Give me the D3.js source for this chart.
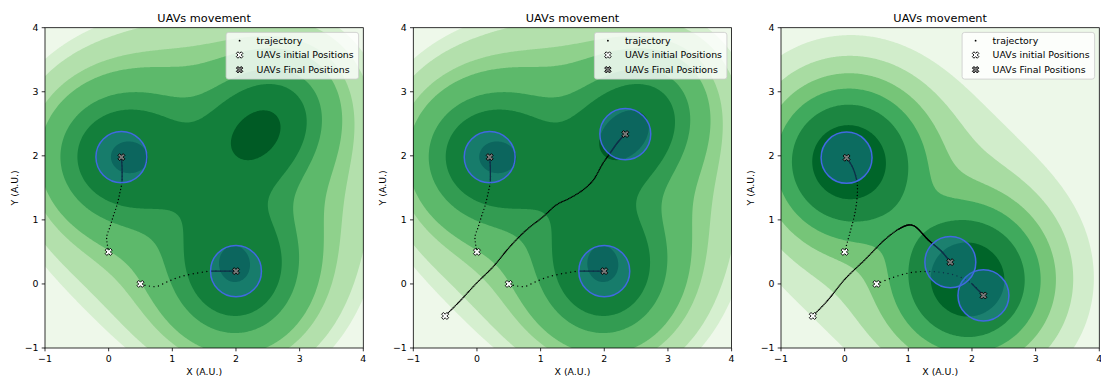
<!DOCTYPE html>
<html><head><meta charset="utf-8">
<script src="https://cdn.jsdelivr.net/npm/d3@7"></script>
<style>body{margin:0;background:#fff}svg{display:block;font-family:"DejaVu Sans",sans-serif}</style>
</head><body><svg id="c" width="1101" height="379"></svg>
<script>
// ================= DATA =================
const xTicks = [-1, 0, 1, 2, 3, 4];
const yTicks = [-1, 0, 1, 2, 3, 4];
const titleText = "UAVs movement";
const xLabel = "X (A.U.)", yLabel = "Y (A.U.)";
const legendLabels = ["trajectory", "UAVs initial Positions", "UAVs Final Positions"];

// coverage field, panels 1 & 2 (three peaks)
const peakX12 = [0.21, 2.0, 2.42];
const peakY12 = [2.0, 0.2, 2.43];
const peakSx12 = [0.72, 0.66, 0.64];
const peakSy12 = [0.66, 0.72, 0.64];
const peakRho12 = [0, 0, 0.25];
const peakAmp12 = [1, 1, 1.04];
const levels12 = [0.14, 0.18, 0.267, 0.35, 0.556, 0.76, 1.10];
const colors12 = ["#eef8ea", "#d5efcf", "#b3e0ac", "#8fd18c", "#5db96b", "#339c52", "#137f3b", "#005b25"];

// coverage field, panel 3 (two peaks)
const peakX3 = [0.05, 1.95];
const peakY3 = [1.92, 0.05];
const peakSx3 = [0.65, 0.65];
const peakSy3 = [0.65, 0.65];
const peakRho3 = [0, 0];
const peakAmp3 = [1, 1];
const levels3 = [0.075, 0.122, 0.198, 0.31, 0.48, 0.745];
const colors3 = ["#edf8e9", "#d1edcb", "#a8dca2", "#76c578", "#40aa5d", "#1c8641", "#006529"];

// kernel shape: narrow-part weight and broad sigma per panel
const narrowWeight = [0.75, 0.75, 0.85];
const broadSigma = [1.5, 1.5, 1.5];

// trajectories (x, y)
const trajA12 = [[0, 0.5], [-0.02, 0.61], [-0.03, 0.74], [0.02, 0.89], [0.07, 1.05], [0.13, 1.23], [0.18, 1.44], [0.21, 1.6], [0.21, 1.83], [0.2, 1.98]];
const trajB12 = [[0.5, 0], [0.62, -0.03], [0.75, -0.04], [0.91, 0.03], [1.12, 0.11], [1.39, 0.17], [1.6, 0.2], [1.8, 0.2], [2.0, 0.2]];
const trajC2 = [[-0.5, -0.5], [-0.27, -0.27], [-0.006, 0.013], [0.256, 0.27], [0.52, 0.585], [0.78, 0.845], [1.04, 1.05], [1.25, 1.235], [1.46, 1.34], [1.67, 1.47], [1.83, 1.625], [1.98, 1.885], [2.09, 2.04], [2.22, 2.22], [2.33, 2.34]];
const trajA3 = [[0, 0.5], [0.08, 0.79], [0.16, 1.1], [0.2, 1.42], [0.19, 1.62], [0.13, 1.81], [0.03, 1.97]];
const trajB3 = [[0.5, 0], [0.73, 0.09], [1.0, 0.17], [1.26, 0.195], [1.52, 0.18], [1.78, 0.12], [1.99, 0.01], [2.18, -0.18]];
const trajC3 = [[-0.5, -0.5], [-0.26, -0.25], [0, 0.07], [0.32, 0.38], [0.63, 0.69], [0.84, 0.85], [1.0, 0.92], [1.1, 0.9], [1.31, 0.69], [1.52, 0.51], [1.66, 0.34]];
// waypoint index from which samples are so dense that they merge into a line
const denseFrom1 = [7, 6];
const denseFrom2 = [7, 6, 12];
const denseFrom3 = [4, 6, 5];
const coverRadius = 0.4;

// ================= LAYOUT / STYLE =================
const panelLeft = [45, 413.3, 781];
const plotW = 318.3, plotH = 320.3, plotTop = 27.7;
const dotGap = [3.4, 4.6, 1.6];
const dotWidth = [1.4, 1.4, 1.55];

const panels = [
  {px: peakX12, py: peakY12, sx: peakSx12, sy: peakSy12, rho: peakRho12, amp: peakAmp12, lev: levels12, col: colors12, trajs: [trajA12, trajB12], dense: denseFrom1},
  {px: peakX12, py: peakY12, sx: peakSx12, sy: peakSy12, rho: peakRho12, amp: peakAmp12, lev: levels12, col: colors12, trajs: [trajA12, trajB12, trajC2], dense: denseFrom2},
  {px: peakX3, py: peakY3, sx: peakSx3, sy: peakSy3, rho: peakRho3, amp: peakAmp3, lev: levels3, col: colors3, trajs: [trajA3, trajB3, trajC3], dense: denseFrom3}
];

const svg = d3.select("#c");
const fmt = v => (v < 0 ? "\u2212" + Math.abs(v) : String(v));
const xMarker = (s) => {
  const pts = [[-1,-2],[0,-1],[1,-2],[2,-1],[1,0],[2,1],[1,2],[0,1],[-1,2],[-2,1],[-1,0],[-2,-1]];
  return "M" + pts.map(p => [p[0]*s/4, p[1]*s/4].join(",")).join("L") + "Z";
};

panels.forEach((P, k) => {
  const x = d3.scaleLinear().domain([-1, 4]).range([0, plotW]);
  const y = d3.scaleLinear().domain([-1, 4]).range([plotH, 0]);
  const g = svg.append("g").attr("transform", `translate(${panelLeft[k]},${plotTop})`);
  const clipId = "clip" + k;
  g.append("clipPath").attr("id", clipId).append("rect").attr("width", plotW).attr("height", plotH);
  const body = g.append("g").attr("clip-path", `url(#${clipId})`);

  // field
  const N = 251, step = 5 / (N - 1);
  const w = narrowWeight[k], sB2 = 2 * broadSigma[k] * broadSigma[k];
  const vals = new Float64Array(N * N);
  for (let j = 0; j < N; j++) {
    const yy = -1 + j * step;
    for (let i = 0; i < N; i++) {
      const xx = -1 + i * step;
      let f = 0;
      for (let p = 0; p < P.px.length; p++) {
        const dx = xx - P.px[p], dy = yy - P.py[p];
        const ux = dx / P.sx[p], uy = dy / P.sy[p], r = P.rho[p];
        const qn = (ux*ux - 2*r*ux*uy + uy*uy) / (1 - r*r);
        f += P.amp[p] * (w * Math.exp(-0.5*qn) + (1 - w) * Math.exp(-(dx*dx+dy*dy)/sB2));
      }
      vals[j * N + i] = f;
    }
  }
  const contours = d3.contours().size([N, N]).thresholds(P.lev)(vals);
  const proj = d3.geoTransform({point: function(gx, gy) {
    this.stream.point(x(-1 + (gx - 0.5) * step), y(-1 + (gy - 0.5) * step));
  }});
  const path = d3.geoPath(proj);
  body.append("rect").attr("width", plotW).attr("height", plotH).attr("fill", P.col[0]);
  body.selectAll("path.band").data(contours).join("path").attr("class", "band")
    .attr("d", path).attr("fill", (d, i) => P.col[i + 1]);

  // trajectories
  const line = d3.line().x(d => x(d[0])).y(d => y(d[1])).curve(d3.curveCatmullRom.alpha(0.5));
  P.trajs.forEach((t, ti) => {
    body.append("path").attr("d", line(t)).attr("fill", "none").attr("stroke", "#000")
      .attr("stroke-width", dotWidth[ti]).attr("stroke-linecap", "round").attr("stroke-dasharray", `0 ${dotGap[ti]}`);
    body.append("path").attr("d", line(t.slice(P.dense[ti]))).attr("fill", "none").attr("stroke", "#000")
      .attr("stroke-width", 1.3);
  });
  // coverage circles
  const rx = x(coverRadius) - x(0), ry = y(0) - y(coverRadius);
  P.trajs.forEach(t => {
    const e = t[t.length - 1];
    body.append("ellipse").attr("cx", x(e[0])).attr("cy", y(e[1])).attr("rx", rx).attr("ry", ry)
      .attr("fill", "#1f77b4").attr("fill-opacity", 0.4).attr("stroke", "#4169e1").attr("stroke-width", 1.5);
  });
  // markers
  P.trajs.forEach(t => {
    const s = t[0], e = t[t.length - 1];
    body.append("path").attr("d", xMarker(7)).attr("transform", `translate(${x(s[0])},${y(s[1])})`)
      .attr("fill", "#fff").attr("stroke", "#000").attr("stroke-width", 0.9);
    body.append("path").attr("d", xMarker(7)).attr("transform", `translate(${x(e[0])},${y(e[1])})`)
      .attr("fill", "#7a7a7a").attr("stroke", "#000").attr("stroke-width", 0.9);
  });

  // spines
  g.append("rect").attr("width", plotW).attr("height", plotH).attr("fill", "none").attr("stroke", "#000").attr("stroke-width", 0.8);
  // ticks
  const fs = "9.4px";
  xTicks.forEach(v => {
    g.append("line").attr("x1", x(v)).attr("x2", x(v)).attr("y1", plotH).attr("y2", plotH + 3.3).attr("stroke", "#000").attr("stroke-width", 0.8);
    g.append("text").attr("x", x(v)).attr("y", plotH + 14).attr("text-anchor", "middle").attr("font-size", fs).text(fmt(v));
  });
  yTicks.forEach(v => {
    g.append("line").attr("x1", -3.3).attr("x2", 0).attr("y1", y(v)).attr("y2", y(v)).attr("stroke", "#000").attr("stroke-width", 0.8);
    g.append("text").attr("x", -6.5).attr("y", y(v)).attr("dy", "0.35em").attr("text-anchor", "end").attr("font-size", fs).text(fmt(v));
  });
  g.append("text").attr("x", plotW / 2).attr("y", plotH + 27.5).attr("text-anchor", "middle").attr("font-size", fs).text(xLabel);
  g.append("text").attr("transform", `translate(-27.5,${plotH / 2}) rotate(-90)`).attr("text-anchor", "middle").attr("font-size", fs).text(yLabel);
  g.append("text").attr("x", plotW / 2).attr("y", -6).attr("text-anchor", "middle").attr("font-size", "11.3px").text(titleText);

  // legend
  const lw = 132.5, lh = 46.7, lx = plotW - 4.7 - lw, ly = 4.7;
  const lg = g.append("g").attr("transform", `translate(${lx},${ly})`);
  lg.append("rect").attr("width", lw).attr("height", lh).attr("rx", 2.5).attr("fill", "#fff").attr("fill-opacity", 0.8)
    .attr("stroke", "#cccccc").attr("stroke-width", 0.8);
  const rowY = [8.3, 22.6, 37.3];
  lg.append("circle").attr("cx", 13.5).attr("cy", rowY[0]).attr("r", 0.9).attr("fill", "#000");
  lg.append("path").attr("d", xMarker(6.5)).attr("transform", `translate(13.5,${rowY[1]})`).attr("fill", "#fff").attr("stroke", "#000").attr("stroke-width", 0.9);
  lg.append("path").attr("d", xMarker(6.5)).attr("transform", `translate(13.5,${rowY[2]})`).attr("fill", "#7a7a7a").attr("stroke", "#000").attr("stroke-width", 0.9);
  legendLabels.forEach((t, i) => {
    lg.append("text").attr("x", 30.5).attr("y", rowY[i]).attr("dy", "0.35em").attr("font-size", fs).text(t);
  });
});
</script></body></html>
